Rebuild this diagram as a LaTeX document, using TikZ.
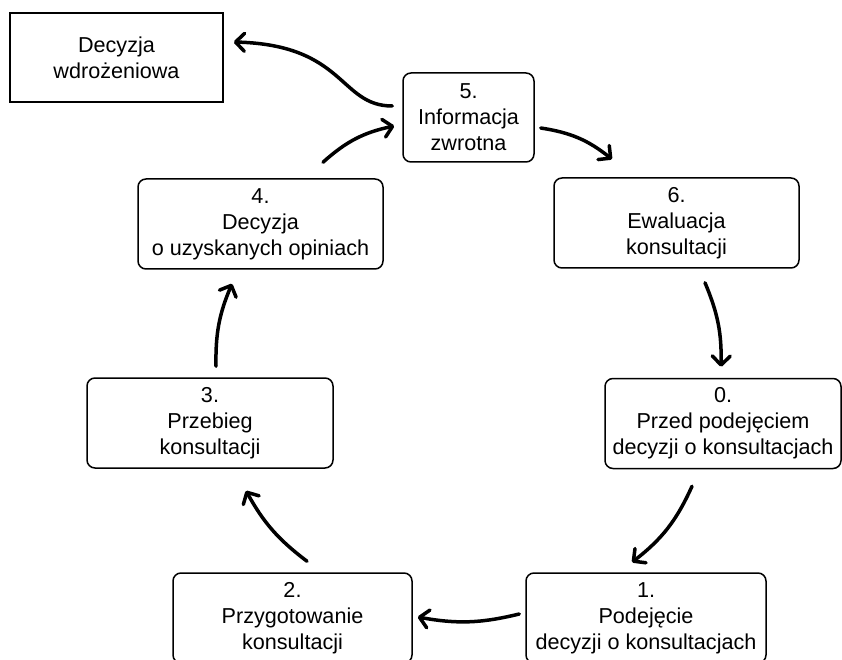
\documentclass[tikz,border=0pt]{standalone}
\usepackage{fontspec}
\setmainfont{Liberation Sans}
\usetikzlibrary{arrows.meta,calc}
\begin{document}
\begin{tikzpicture}[x=1pt,y=1pt,
  label font/.style={font=\fontsize{21.6}{26}\selectfont},
  stage/.style={draw, rounded corners=8pt, line width=1.5pt, align=center,
    inner sep=0pt, minimum height=90pt, label font},
  outcome/.style={draw, line width=1.5pt, align=center, inner sep=0pt,
    minimum width=213pt, minimum height=89pt, label font},
  flow/.style={line width=3.5pt, line cap=round,
    -{Straight Barb[length=9pt,width=18pt,line cap=round,line join=round]}},
]
\useasboundingbox (0,0) rectangle (842,659);

% outcome box
\node[outcome] (dw) at (116.5,601.5) {Decyzja\\wdrożeniowa};

% cycle stages
\node[stage, minimum width=131pt, minimum height=89pt] (n5) at (468.5,541.5) {5.\\Informacja\\zwrotna};
\node[stage, minimum width=245pt] (n6) at (676.5,436) {6.\\Ewaluacja\\konsultacji};
\node[stage, minimum width=245pt] (n4) at (260.5,435) {4.\\Decyzja\\o uzyskanych opiniach};
\node[stage, minimum width=246pt] (n3) at (210,236) {3.\\Przebieg\\konsultacji};
\node[stage, minimum width=236pt] (n0) at (723,235.5) {0.\\Przed podejęciem\\decyzji o konsultacjach};
\node[stage, minimum width=239pt] (n2) at (292.5,41) {2.\\Przygotowanie\\konsultacji};
\node[stage, minimum width=240pt] (n1) at (646,41) {1.\\Podejęcie\\decyzji o konsultacjach};

% connectors
\draw[flow] ($(n5.west)+(-10,11.5)$) .. controls ($(n5.west)+(-63,11.5)$) and ($(dw.east)+(122,12.5)$) .. ($(dw.east)+(10,15.5)$);
\draw[flow] ($(n4.north)+(62.5,16)$) to[bend left=15] ($(n5.west)+(-8,-8.5)$);
\draw[flow] ($(n5.east)+(6,-10.5)$) to[bend left=15] ($(n6.north)+(-64.5,18)$);
\draw[flow] ($(n6.south)+(28.5,-14)$) to[bend left=12] ($(n0.north)+(-2,11)$);
\draw[flow] ($(n0.south)+(-31,-17)$) to[bend left=14] ($(n1.north)+(-14,10)$);
\draw[flow] ($(n1.west)+(-6,4)$) to[bend left=12] ($(n2.east)+(5,1)$);
\draw[flow] ($(n2.north)+(14.5,11)$) to[bend left=12] ($(n3.south)+(36,-22)$);
\draw[flow] ($(n3.north)+(6,11)$) to[bend left=12] ($(n4.south)+(-28.5,-14)$);
\end{tikzpicture}
\end{document}
